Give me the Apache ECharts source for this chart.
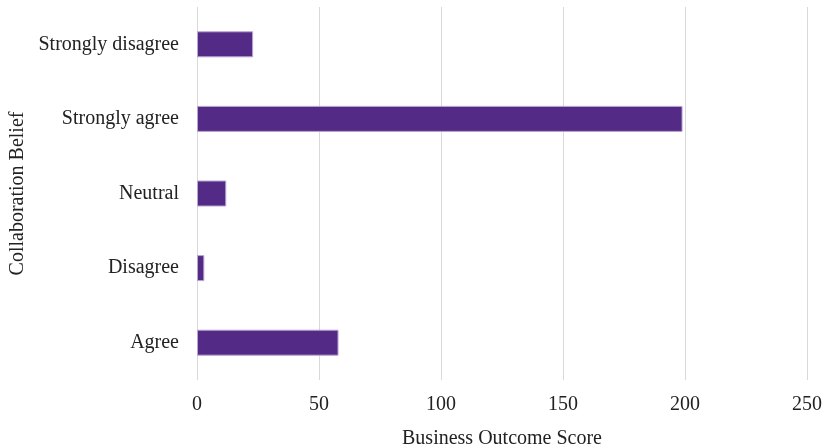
<!DOCTYPE html>
<html>
<head>
<meta charset="utf-8">
<script src="https://cdn.jsdelivr.net/npm/echarts@6/dist/echarts.min.js"></script>
<style>
  html, body { margin: 0; padding: 0; background: #fff; }
  #chart { width: 822px; height: 447px; }
</style>
</head>
<body>
<div id="chart"></div>
<script>
// categories bottom -> top
var beliefs = ['Agree', 'Disagree', 'Neutral', 'Strongly agree', 'Strongly disagree'];
var scores = [58, 3, 12, 199, 23];
var xTicks = [0, 50, 100, 150, 200, 250];

var chart = echarts.init(document.getElementById('chart'));
var font = 'Liberation Serif';

chart.setOption({
	animation: false,
	grid: {
		left: 197,
		right: 15,
		top: 7,
		bottom: 67,
		containLabel: false,
		outerBoundsMode: 'none'
	},
	xAxis: {
		type: 'value',
		min: xTicks[0],
		max: xTicks[xTicks.length - 1],
		interval: 50,
		name: 'Business Outcome Score',
		nameLocation: 'middle',
		nameGap: 49,
		nameTextStyle: { fontFamily: font, fontSize: 20, color: '#222' },
		axisLine: { show: false },
		axisTick: { show: false },
		axisLabel: { fontFamily: font, fontSize: 20, color: '#222', margin: 15 },
		splitLine: { lineStyle: { color: '#d9d9d9', width: 1 } }
	},
	yAxis: {
		type: 'category',
		data: beliefs,
		name: 'Collaboration Belief',
		nameLocation: 'middle',
		nameRotate: 90,
		nameGap: 165,
		nameTextStyle: { fontFamily: font, fontSize: 20, color: '#222' },
		axisLine: { show: false },
		axisTick: { show: false },
		axisLabel: { fontFamily: font, fontSize: 20, color: '#222', margin: 18, padding: [4, 0, 0, 0] }
	},
	series: [{
		type: 'bar',
		data: scores,
		barWidth: 26,
		itemStyle: {
			color: '#532a85',
			borderColor: '#b9a4d2',
			borderWidth: 1
		}
	}]
});
</script>
</body>
</html>
